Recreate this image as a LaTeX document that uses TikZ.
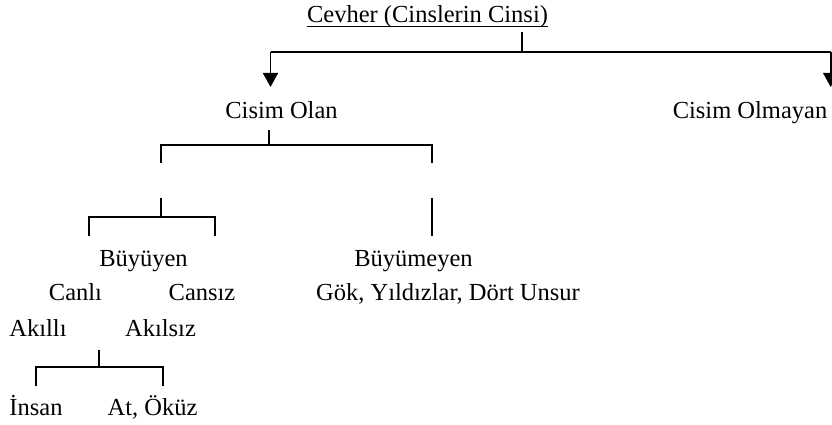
\documentclass[tikz,border=0pt]{standalone}
\usepackage{fontspec}
\setmainfont{Liberation Serif}
\usetikzlibrary{arrows.meta}
\begin{document}
\begin{tikzpicture}[x=1pt,y=1pt,
  lbl/.style={anchor=base,inner sep=0pt,font=\fontsize{24.5}{29}\selectfont},
  conn/.style={line width=1.8pt},
  arr/.style={conn,-{Triangle[length=14pt,width=15pt]}}]
\useasboundingbox (0,0) rectangle (832,425);
% text nodes
\node[lbl] (cev) at (427.5,402) {Cevher (Cinslerin Cinsi)};
\node[lbl] (co) at (281.5,306) {Cisim Olan};
\node[lbl] (com) at (750,306) {Cisim Olmayan};
\node[lbl] (buy) at (143.5,158) {Büyüyen};
\node[lbl] (buym) at (413.5,158) {Büyümeyen};
\node[lbl] (canli) at (75.5,124) {Canlı};
\node[lbl] (cansiz) at (202,124) {Cansız};
\node[lbl] (gok) at (448,124) {Gök, Yıldızlar, Dört Unsur};
\node[lbl] (akilli) at (38,88) {Akıllı};
\node[lbl] (akilsiz) at (160.5,88) {Akılsız};
\node[lbl] (insan) at (36,9) {İnsan};
\node[lbl] (at) at (152.5,9) {At, Öküz};
% underline
\draw[line width=1.2pt] ([yshift=-3.5pt]cev.base west) -- ([yshift=-3.5pt]cev.base east);
% level 1
\coordinate (a0) at (522,393);
\coordinate (a1) at (522,373);
\coordinate (aL) at (270.5,373);
\coordinate (aR) at (830.7,373);
\coordinate (aLt) at (270.5,338);
\coordinate (aRt) at (830.7,338);
\draw[conn] (a0) -- (a1);
\draw[conn] (aL) -- (aR);
\draw[arr] (aL) -- (aLt);
\draw[arr] (aR) -- (aRt);
% level 2
\coordinate (b0) at (269,295);
\coordinate (b1) at (269,280);
\coordinate (bL) at (161,280);
\coordinate (bR) at (432,280);
\coordinate (bLd) at (161,262);
\coordinate (bRd) at (432,262);
\draw[conn] (b0) -- (b1);
\draw[conn] (bLd) -- (bL) -- (bR) -- (bRd);
% level 3
\coordinate (c0) at (161,227);
\coordinate (c1) at (161,208);
\coordinate (cL) at (89,208);
\coordinate (cR) at (215,208);
\coordinate (cLd) at (89,189);
\coordinate (cRd) at (215,189);
\coordinate (d0) at (432,227);
\coordinate (d1) at (432,189);
\draw[conn] (c0) -- (c1);
\draw[conn] (cLd) -- (cL) -- (cR) -- (cRd);
\draw[conn] (d0) -- (d1);
% level 4
\coordinate (e0) at (99,75);
\coordinate (e1) at (99,58);
\coordinate (eL) at (36,58);
\coordinate (eR) at (163,58);
\coordinate (eLd) at (36,39);
\coordinate (eRd) at (163,39);
\draw[conn] (e0) -- (e1);
\draw[conn] (eLd) -- (eL) -- (eR) -- (eRd);
\end{tikzpicture}
\end{document}
